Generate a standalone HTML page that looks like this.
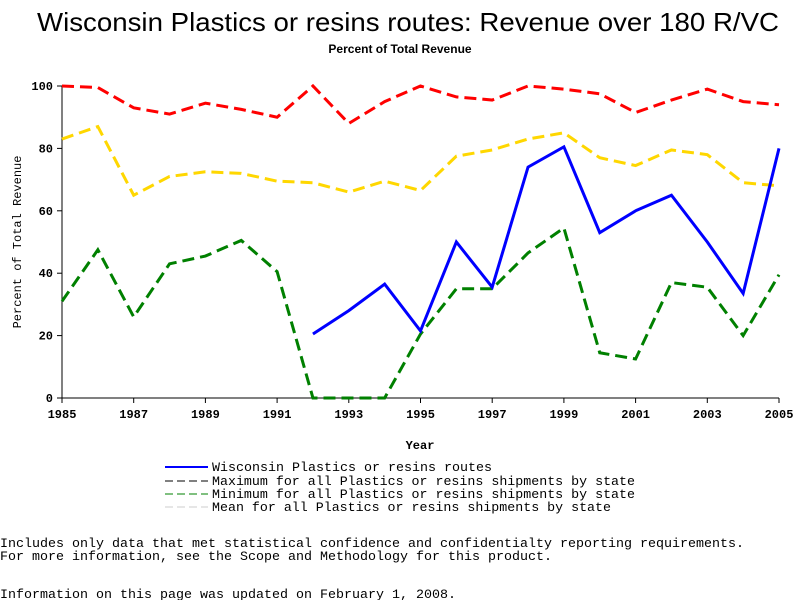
<!DOCTYPE html>
<html><head><meta charset="utf-8"><style>
body{margin:0;background:#fff;}
svg text{font-family:"Liberation Mono",monospace;fill:#000;}
</style></head><body>
<svg id="chart" width="800" height="600" xmlns="http://www.w3.org/2000/svg">
<text x="37" y="31" textLength="742" lengthAdjust="spacingAndGlyphs" style="font-family:'Liberation Sans',sans-serif;font-size:26px;">Wisconsin Plastics or resins routes: Revenue over 180 R/VC</text>
<text x="400" y="53" text-anchor="middle" style="font-family:'Liberation Sans',sans-serif;font-size:12px;font-weight:bold;">Percent of Total Revenue</text>
<g id="axes"></g>
<g id="series"></g>
<text x="420" y="449" text-anchor="middle" style="font-size:12px;font-weight:bold;">Year</text>
<text transform="translate(21,242) rotate(-90)" text-anchor="middle" style="font-size:12px;">Percent of Total Revenue</text>
<g style="font-size:13px;">
<line x1="165" y1="467" x2="208" y2="467" stroke="#0000ff" stroke-width="2"/><text x="212" y="471" textLength="280" lengthAdjust="spacingAndGlyphs">Wisconsin Plastics or resins routes</text>
<line x1="165" y1="481" x2="208" y2="481" stroke="#000" stroke-width="1" stroke-dasharray="8,4"/><text x="212" y="485" textLength="423" lengthAdjust="spacingAndGlyphs">Maximum for all Plastics or resins shipments by state</text>
<line x1="165" y1="494" x2="208" y2="494" stroke="#008000" stroke-width="1" stroke-dasharray="8,4"/><text x="212" y="498" textLength="423" lengthAdjust="spacingAndGlyphs">Minimum for all Plastics or resins shipments by state</text>
<line x1="165" y1="507" x2="208" y2="507" stroke="#ccc" stroke-width="1" stroke-dasharray="8,4"/><text x="212" y="511" textLength="399" lengthAdjust="spacingAndGlyphs">Mean for all Plastics or resins shipments by state</text>
</g>
<g style="font-size:13px;">
<text x="0" y="547" textLength="744" lengthAdjust="spacingAndGlyphs">Includes only data that met statistical confidence and confidentialty reporting requirements.</text>
<text x="0" y="560" textLength="552" lengthAdjust="spacingAndGlyphs">For more information, see the Scope and Methodology for this product.</text>
<text x="0" y="598" textLength="456" lengthAdjust="spacingAndGlyphs">Information on this page was updated on February 1, 2008.</text>
</g>
</svg>
<script>
const years=[1985,1986,1987,1988,1989,1990,1991,1992,1993,1994,1995,1996,1997,1998,1999,2000,2001,2002,2003,2004,2005];
const maxVals=[100,99.5,93,91,94.5,92.5,90,100,88,95,100,96.5,95.5,100,99,97.5,91.5,95.5,99,95,94];
const meanVals=[83,87,65,71,72.5,72,69.5,69,66,69.5,66.5,77.5,79.5,83,85,77,74.5,79.5,78,69,68];
const minVals=[31,47.5,26,43,45.5,50.5,40.5,0,0,0,20.5,35,35,46.5,54.5,14.5,12.5,37,35.5,20,39.5];
const wiVals=[null,null,null,null,null,null,null,20.5,28,36.5,21.5,50,35.5,74,80.5,53,60,65,50,33.5,80];
const xTicks=[1985,1987,1989,1991,1993,1995,1997,1999,2001,2003,2005];
const yTicks=[0,20,40,60,80,100];
const NS="http://www.w3.org/2000/svg";
const X=y=>62+(y-1985)*(779-62)/20;
const Y=v=>398-v*3.12;
const axes=document.getElementById('axes'),ser=document.getElementById('series');
function mk(tag,attrs,parent){const e=document.createElementNS(NS,tag);for(const k in attrs)e.setAttribute(k,attrs[k]);parent.appendChild(e);return e;}
const xa=mk('line',{x1:62,y1:398,x2:779,y2:398,stroke:'#000'},axes);


const ya=mk('line',{x1:62,y1:86,x2:62,y2:398,stroke:'#000'},axes);


xTicks.forEach(t=>{mk('line',{x1:X(t),y1:398,x2:X(t),y2:403,stroke:'#000'},axes);
const tx=mk('text',{x:X(t),y:418,'text-anchor':'middle','font-size':'12','font-weight':'bold'},axes);tx.textContent=t;

});
yTicks.forEach(t=>{mk('line',{x1:57,y1:Y(t),x2:62,y2:Y(t),stroke:'#000'},axes);
const tx=mk('text',{x:53,y:Y(t)+4,'text-anchor':'end','font-size':'12','font-weight':'bold'},axes);tx.textContent=t;

});
function line(vals,color,dash,name){let d='';let pen=false;vals.forEach((v,i)=>{if(v===null){pen=false;return;}d+=(pen?'L':'M')+X(years[i])+' '+Y(v)+' ';pen=true;});
const p=mk('path',{d:d,fill:'none',stroke:color,'stroke-width':3},ser);if(dash)p.setAttribute('stroke-dasharray',dash);

}
line(maxVals,'#ff0000','12,6','max-line');
line(meanVals,'#ffd700','12,6','mean-line');
line(minVals,'#008000','12,6','min-line');
line(wiVals,'#0000ff',null,'wisconsin-line');
</script>
</body></html>
